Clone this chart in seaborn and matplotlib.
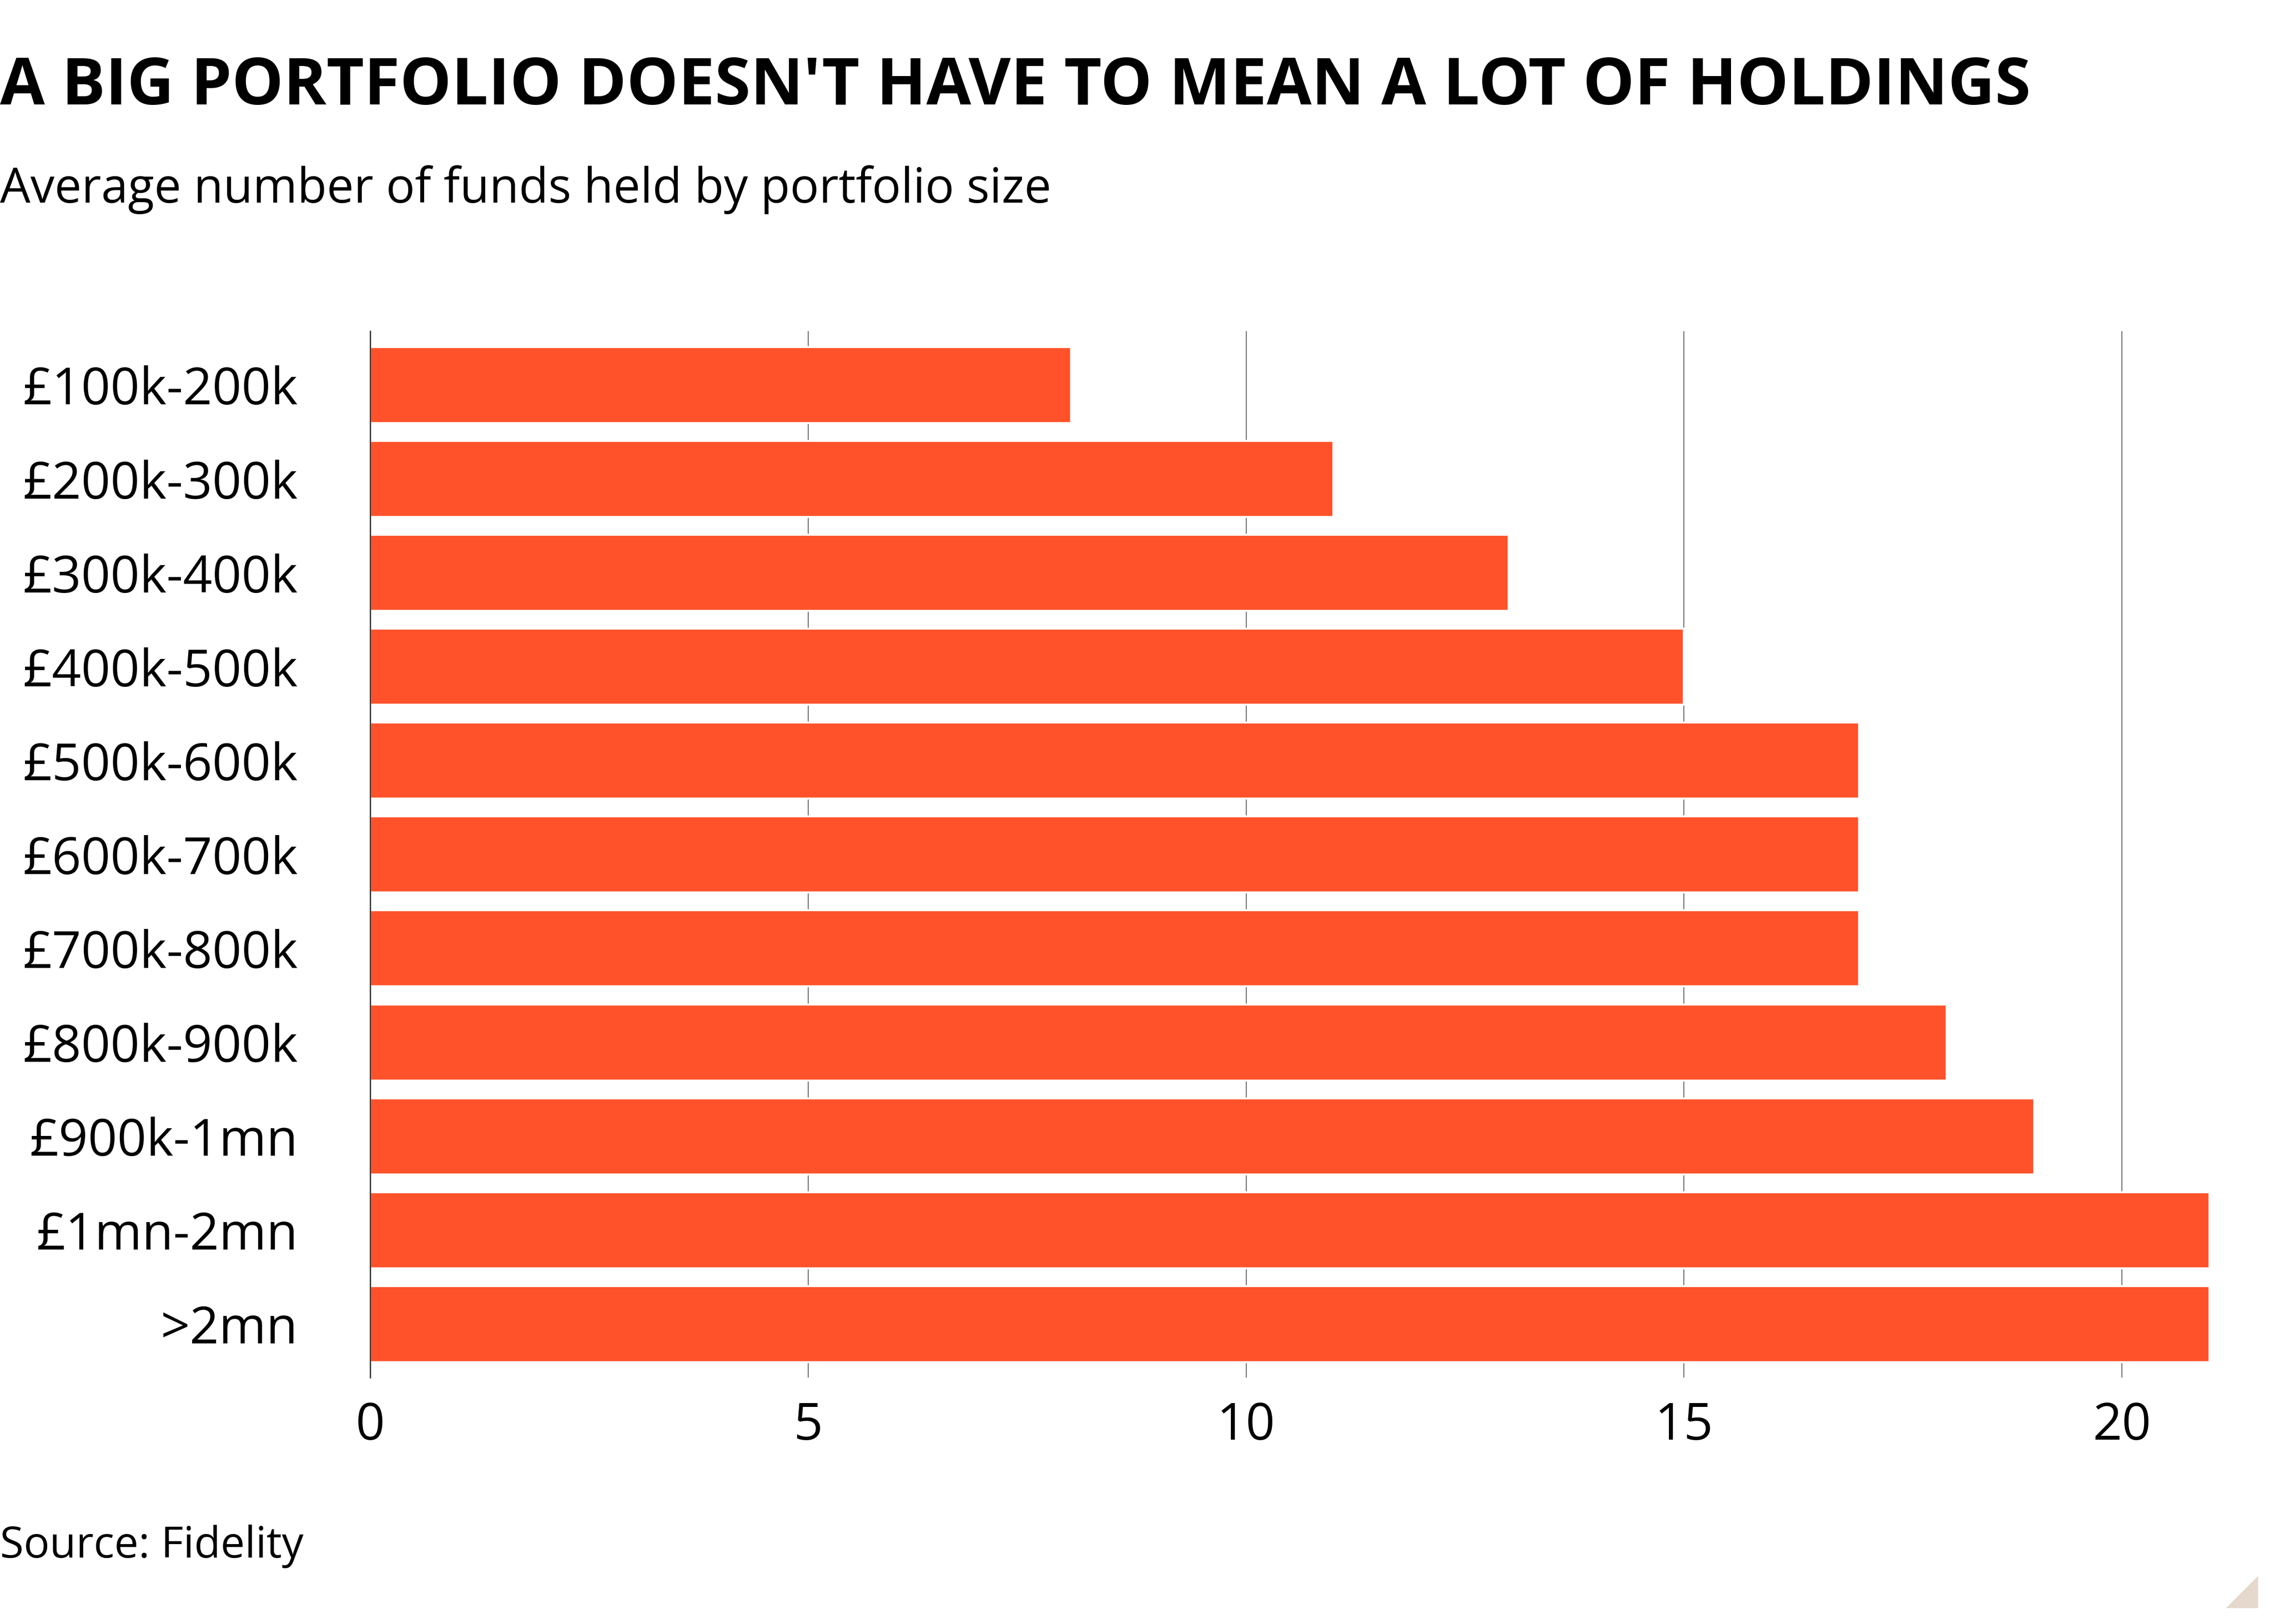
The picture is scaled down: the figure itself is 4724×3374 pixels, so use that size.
import pandas as pd
import matplotlib
matplotlib.use('Agg')
import matplotlib.pyplot as plt
from matplotlib.patches import Polygon
import seaborn as sns

# data
sizes = ['£100k-200k', '£200k-300k', '£300k-400k', '£400k-500k', '£500k-600k',
         '£600k-700k', '£700k-800k', '£800k-900k', '£900k-1mn', '£1mn-2mn', '>2mn']
funds = [8, 11, 13, 15, 17, 17, 17, 18, 19, 21, 21]
x_ticks = [0, 5, 10, 15, 20]

title = "A BIG PORTFOLIO DOESN'T HAVE TO MEAN A LOT OF HOLDINGS"
subtitle = 'Average number of funds held by portfolio size'
source = 'Source: Fidelity'

bar_color = '#ff522b'

df = pd.DataFrame({'size': sizes, 'funds': funds})

sns.set_style('white')
plt.rcParams['font.family'] = ['Open Sans', 'DejaVu Sans']

W, H, DPI = 4724, 3374, 300
fig = plt.figure(figsize=(W / DPI, H / DPI), dpi=DPI)
ax = fig.add_axes([769 / W, 1 - 2862 / H, (4590 - 769) / W, (2862 - 688) / H])

sns.barplot(data=df, x='funds', y='size', color=bar_color, width=0.81,
            saturation=1, ax=ax, zorder=3)

ax.set_xlim(0, 21)
ax.set_ylim(10.57, -0.574)
ax.set_xticks(x_ticks)
ax.set_xlabel('')
ax.set_ylabel('')

ax.grid(axis='x', color='#6e6e6e', linewidth=0.5, zorder=0)
ax.grid(axis='y', visible=False)
for s in ['top', 'right', 'bottom']:
    ax.spines[s].set_visible(False)
ax.spines['left'].set_color('#222222')
ax.spines['left'].set_linewidth(0.6)
ax.spines['left'].set_zorder(4)

ax.tick_params(axis='y', length=19.4, width=0.6, color='#555555', pad=16.6,
               labelsize=25.5, labelcolor='black')
ax.tick_params(axis='x', length=0, pad=11.5, labelsize=25.5, labelcolor='black')

fig.text(0.0, 1 - 217 / H, title, fontsize=32.4, fontweight='bold', ha='left',
         va='baseline', color='black')
fig.text(0.0, 1 - 421 / H, subtitle, fontsize=24, ha='left', va='baseline',
         color='black')
fig.text(0.0, 1 - 3236 / H, source, fontsize=21.5, ha='left', va='baseline',
         color='black')

# corner mark
tri = Polygon([[4624 / W, 1 - 3341 / H], [4691 / W, 1 - 3341 / H], [4691 / W, 1 - 3274 / H]],
              closed=True, transform=fig.transFigure, facecolor='#e5d9ce', edgecolor='none')
fig.patches.append(tri)

fig.savefig('out.png', dpi=DPI, facecolor='white')
